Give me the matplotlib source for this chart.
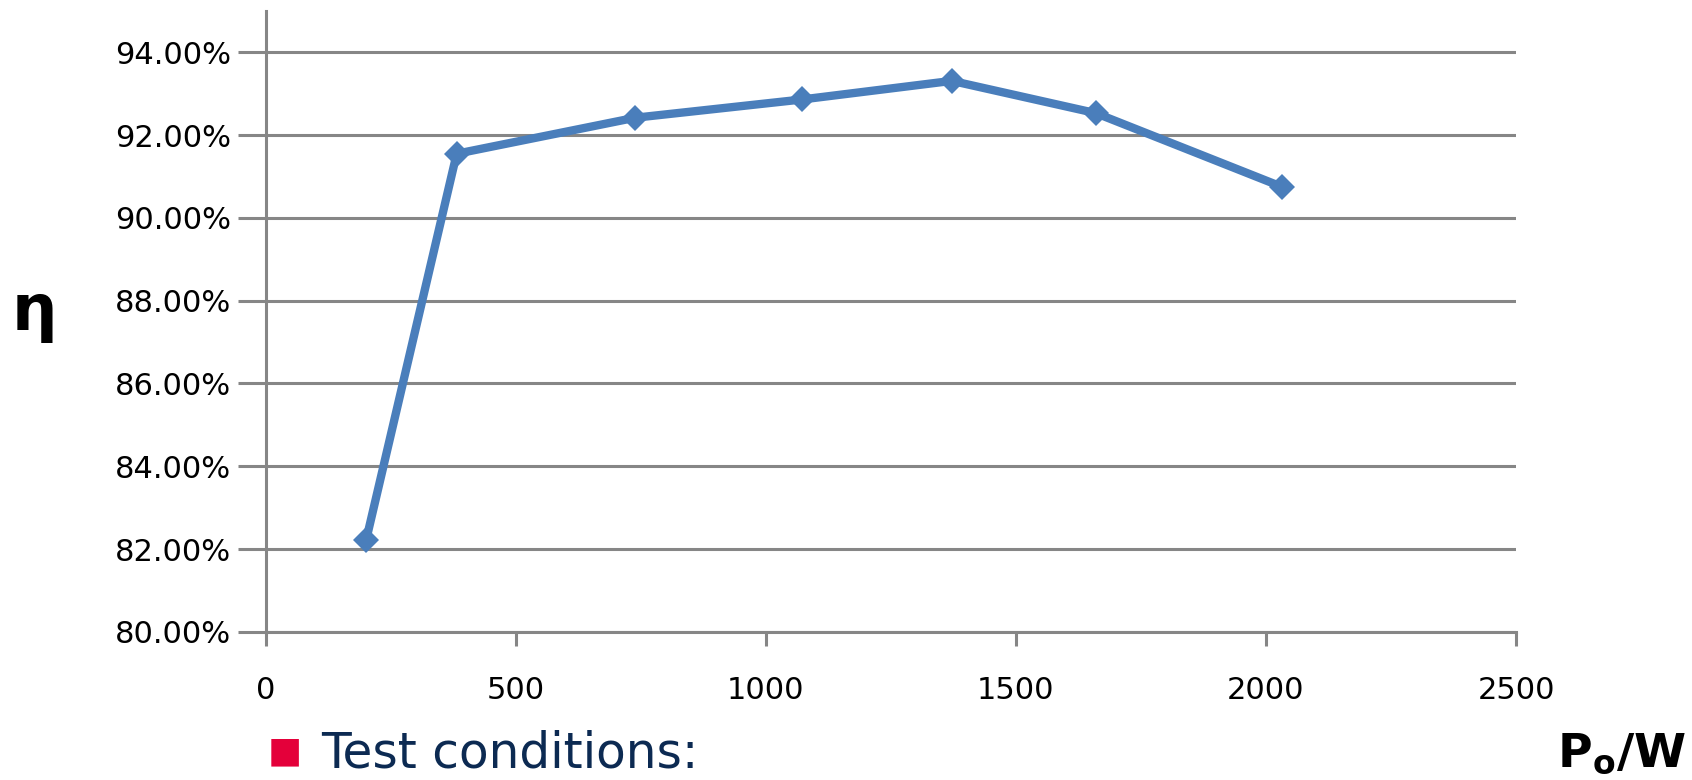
import numpy as np
import matplotlib
matplotlib.use("Agg")
import matplotlib.pyplot as plt
from matplotlib.ticker import FuncFormatter

# output power (W) and efficiency (%)
power = [201, 382, 739, 1072, 1372, 1660, 2032]
eff = [82.22, 91.55, 92.42, 92.86, 93.31, 92.53, 90.75]

xticks = [0, 500, 1000, 1500, 2000, 2500]
yticks = [80, 82, 84, 86, 88, 90, 92, 94]

grey = "#868686"
blue = "#4A7EBB"

fig = plt.figure(figsize=(16.92, 7.80), dpi=100)
ax = fig.add_axes([0.157, 0.190, 0.739, 0.796])

ax.plot(power, eff, color=blue, lw=6, marker="D", markersize=13,
        markeredgewidth=0, solid_joinstyle="round", zorder=3)

ax.set_xlim(0, 2500)
ax.set_ylim(80, 95)
ax.set_xticks(xticks)
ax.set_yticks(yticks)
ax.yaxis.set_major_formatter(FuncFormatter(lambda v, p: "%.2f%%" % v))

ax.grid(axis="y", color=grey, lw=2.2)
ax.set_axisbelow(True)
for s in ["top", "right"]:
    ax.spines[s].set_visible(False)
for s in ["left", "bottom"]:
    ax.spines[s].set_color(grey)
    ax.spines[s].set_linewidth(2.2)

ax.tick_params(axis="y", length=20, width=2.2, color=grey, pad=5,
               labelsize=22, labelcolor="black")
ax.tick_params(axis="x", length=10, width=2.2, color=grey, pad=22,
               labelsize=22, labelcolor="black")

# axis captions
fig.text(0.007, 0.60, "η", fontsize=46, fontweight="bold", ha="left", va="center")
fig.text(0.920, 0.017, r"$\mathbf{P_o}$/W", fontsize=34, fontweight="bold",
         ha="left", va="baseline")

# bullet below the chart
fig.text(0.158, 0.036, "■", color="#E4003A", fontsize=26, ha="left", va="center")
fig.text(0.190, 0.016, "Test conditions:", color="#0C2A52", fontsize=35,
         ha="left", va="baseline")

fig.savefig("out.png", dpi=100)
